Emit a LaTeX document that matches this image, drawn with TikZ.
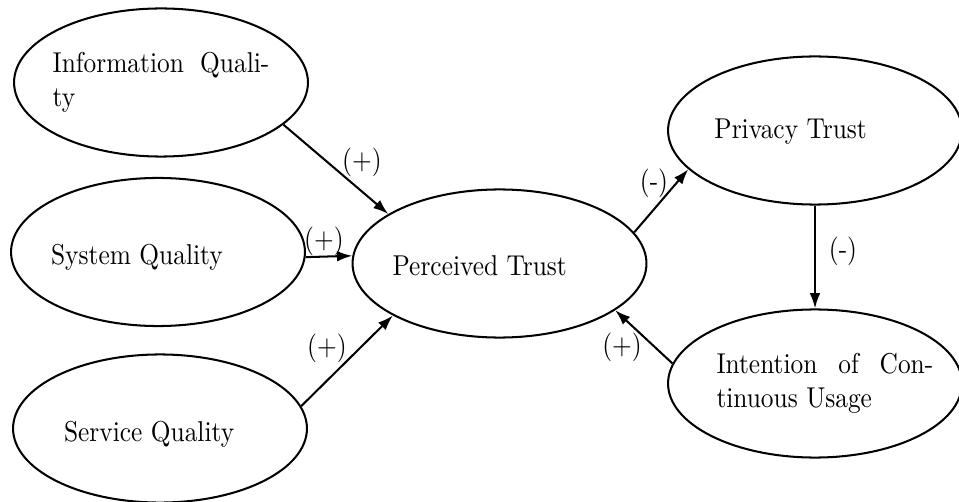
\documentclass[tikz,border=0pt]{standalone}
\usepackage{graphicx}
\usetikzlibrary{shapes.geometric,arrows.meta}
\newcommand\ntext[2][0pt]{\scalebox{1}[1.13]{\makebox[0pt]{\hspace*{#1}\parbox{3cm}{#2}\hspace*{-#1}}}}
\newcommand\lbltext[1]{\scalebox{1}[1.13]{#1}}
\begin{document}
\begin{tikzpicture}[x=0.3937pt,y=-0.3937pt,
  ell/.style={ellipse,draw,line width=0.8pt,minimum width=115.7pt,minimum height=58.3pt,inner sep=0pt},
  arr/.style={-{Latex[length=6pt,width=4.2pt]},line width=0.8pt},
  lbl/.style={inner sep=0pt}]
\useasboundingbox (0,0) rectangle (959,502);
\node[ell] (iq) at (161,82.5) {\ntext{Information Quali-\linebreak ty}};
\node[ell,text height=9.9pt,text depth=0pt] (sq) at (158,252) {\ntext[0.6pt]{System Quality}};
\node[ell,text height=10.6pt,text depth=0pt] (svq) at (160,428.5) {\ntext[4.9pt]{Service Quality}};
\node[ell,text height=7.7pt,text depth=0pt] (pt) at (499.5,263.5) {\ntext[0.6pt]{Perceived Trust}};
\node[ell,text height=6.3pt,text depth=0pt] (prt) at (815,130.5) {\ntext[3.1pt]{Privacy Trust}};
\node[ell] (icu) at (815,383.5) {\ntext[3.9pt]{Intention of Con\-tinuous Usage}};
\draw[arr] (iq.-19) -- (pt.156.2);
\draw[arr] (sq.-2.3) -- (pt.177.9);
\draw[arr] (svq.9.7) -- (pt.206.2);
\draw[arr] (pt.13.3) -- (prt.197.9);
\draw[arr] (prt) -- (icu);
\draw[arr] (icu.172.4) -- (pt.-22.1);
\node[lbl] (l1) at (362,162) {\lbltext{(+)}};
\node[lbl] (l2) at (324,241) {\lbltext{(+)}};
\node[lbl] (l3) at (327,348) {\lbltext{(+)}};
\node[lbl] (l4) at (654,183) {\lbltext{(-)}};
\node[lbl] (l5) at (843,251) {\lbltext{(-)}};
\node[lbl] (l6) at (622,347) {\lbltext{(+)}};
\end{tikzpicture}
\end{document}
